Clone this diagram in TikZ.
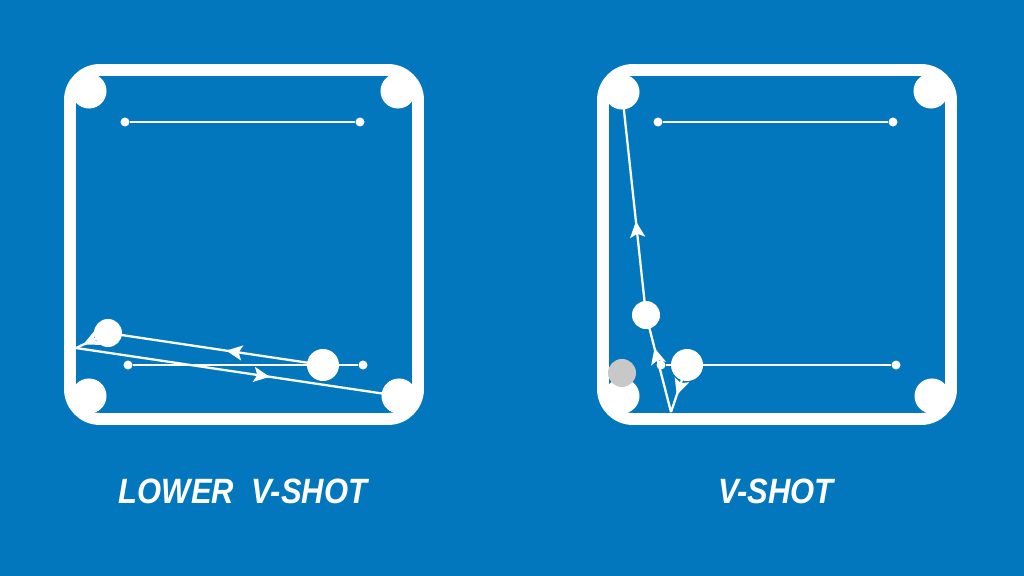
\documentclass[tikz,border=0pt]{standalone}
\usepackage{fontspec}
\setmainfont{Liberation Sans}
\newfontfamily\capfont[FakeStretch=0.88]{Liberation Sans}
\usetikzlibrary{arrows.meta,decorations.markings}

\definecolor{feltblue}{HTML}{0277BD}
\definecolor{ghostgray}{HTML}{C8C8C8}

\tikzset{
  rail/.style={draw=white, line width=3.4pt, rounded corners=0.3cm},
  pocket/.style={circle, fill=white, minimum size=0.35cm, inner sep=0pt},
  cueball/.style={circle, fill=white, minimum size=0.32cm, inner sep=0pt},
  objball/.style={circle, fill=white, minimum size=0.28cm, inner sep=0pt},
  ghostball/.style={objball, fill=ghostgray},
  spotline/.style={white, line width=0.85pt},
  spot/.style={circle, fill=white, minimum size=0.09cm, inner sep=0pt},
  track/.style={white, line width=0.65pt},
  midarrow/.style={postaction={decorate, decoration={markings,
      mark=at position #1 with {\arrow{Stealth[length=0.16cm,width=0.15cm,inset=0.035cm]}}}}},
  caption/.style={text=white, font=\capfont\fontsize{10}{12}\selectfont\bfseries\itshape}
}

\begin{document}
\begin{tikzpicture}[x=0.01cm, y=-0.01cm]
% Background
\fill[feltblue] (0,0) rectangle (1024,576);
\useasboundingbox (0,0) rectangle (1024,576);

% Left table: lower v-shot
\draw[rail] (70,70) rectangle (418,419);
\node[spot] (headL1) at (125,122) {};
\node[spot] (headL2) at (360,122) {};
\draw[spotline] (headL1) -- (headL2);
\coordinate (cueL) at (323,365);
\coordinate (objL) at (108,333);
\coordinate (cushL) at (76,348);
\coordinate (pocketBRL) at (399,396);
\node[spot] (footL1) at (128,365) {};
\node[spot] (footL2) at (363,365) {};
\draw[spotline] (footL1) -- (footL2);
\draw[track, midarrow=0.45] (cueL) -- (objL);
\draw[track, midarrow=0.78] (objL) -- (cushL);
\draw[track, midarrow=0.6] (cushL) -- (pocketBRL);
\node[pocket] (pocketTLL) at (89,91) {};
\node[pocket] (pocketTRL) at (398,91) {};
\node[pocket] (pocketBLL) at (89,396) {};
\node[pocket] at (pocketBRL) {};
\node[cueball] (cueballL) at (cueL) {};
\node[objball] (objballL) at (objL) {};

% Right table: v-shot
\draw[rail] (603,70) rectangle (951,419);
\node[spot] (headR1) at (658,122) {};
\node[spot] (headR2) at (893,122) {};
\draw[spotline] (headR1) -- (headR2);
\coordinate (cueR) at (687,365);
\coordinate (objR) at (646,315);
\coordinate (cushR) at (671,412);
\coordinate (pocketTLR) at (622,92);
\node[spot] (footR1) at (661,365) {};
\node[spot] (footR2) at (896,365) {};
\draw[spotline] (footR1) -- (footR2);
\draw[track, midarrow=0.64] (cueR) -- (cushR);
\draw[track, midarrow=0.66] (cushR) -- (objR);
\draw[track, midarrow=0.42] (objR) -- (pocketTLR);
\node[pocket] at (pocketTLR) {};
\node[pocket] (pocketTRR) at (931,91) {};
\node[pocket] (pocketBLR) at (622,396) {};
\node[pocket] (pocketBRR) at (932,396) {};
\node[ghostball] (ghostR) at (622,373) {};
\node[cueball] (cueballR) at (cueR) {};
\node[objball] (objballR) at (objR) {};

% Labels
\node[caption] (labelL) at (243,491) {LOWER\ \ V-SHOT};
\node[caption] (labelR) at (776,491) {V-SHOT};
\end{tikzpicture}
\end{document}
